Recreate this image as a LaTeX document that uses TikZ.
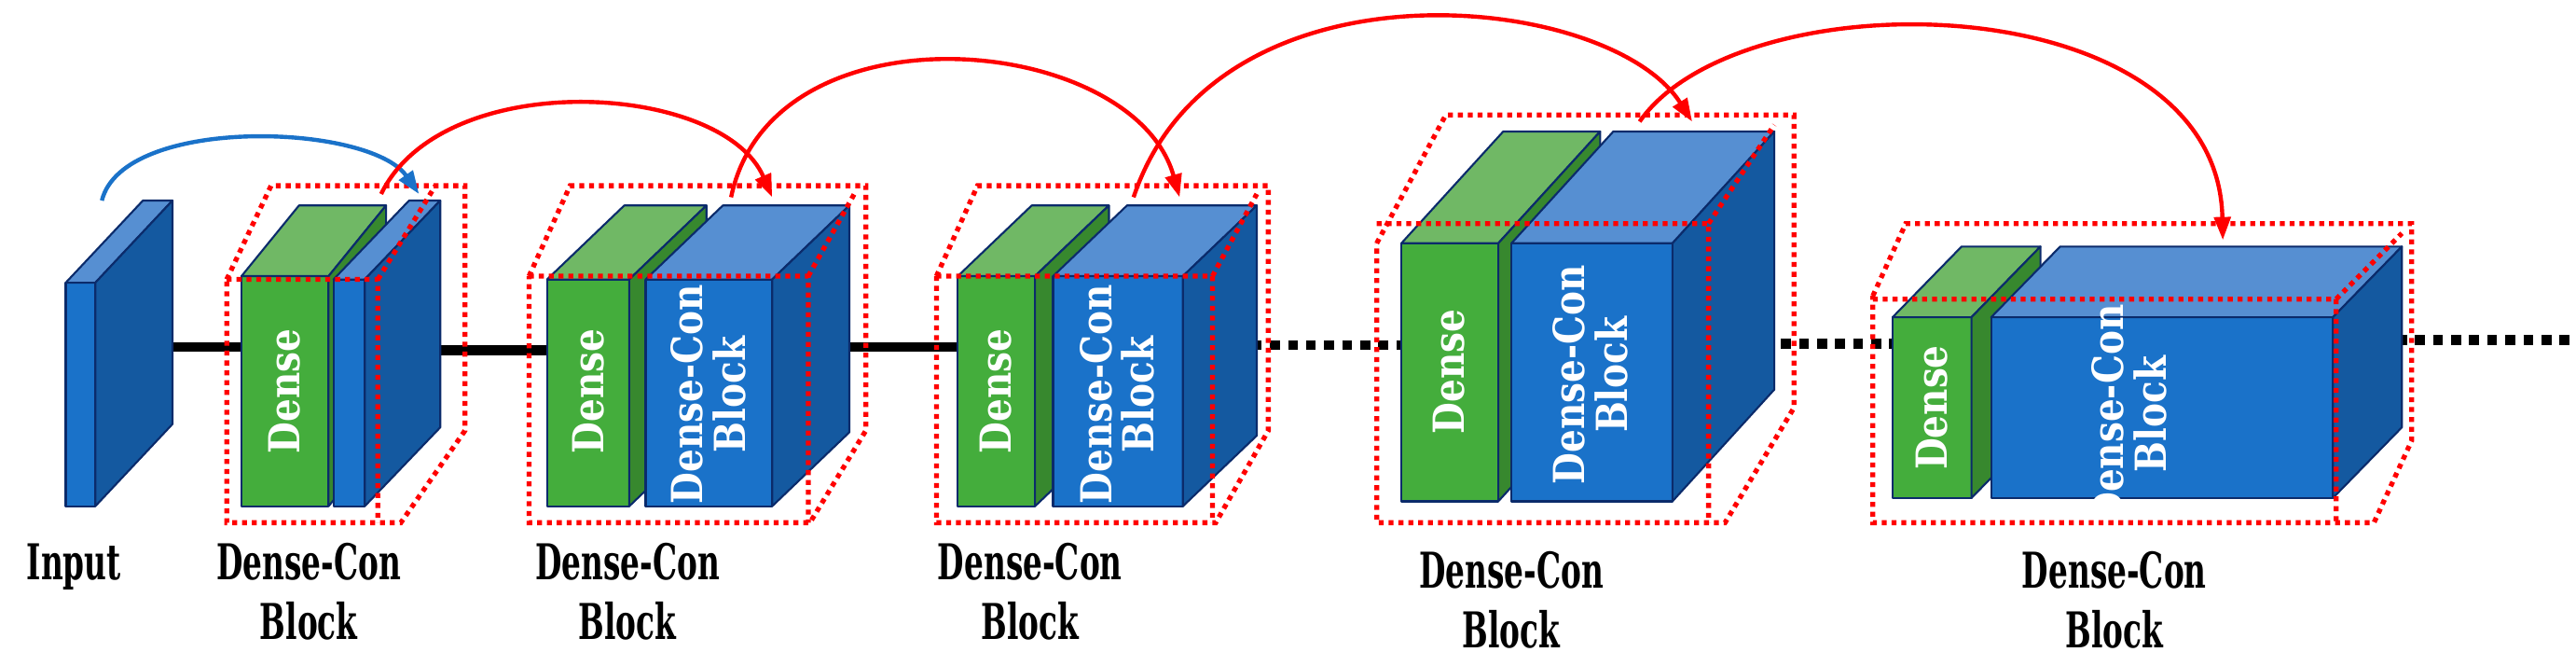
\documentclass[tikz,border=0pt]{standalone}
\usepackage{fontspec}
\setmainfont{DejaVu Serif}
\usetikzlibrary{arrows.meta}
\definecolor{bF}{HTML}{1A72C9}\definecolor{bT}{HTML}{568FD2}\definecolor{bS}{HTML}{1459A0}
\definecolor{gF}{HTML}{44AD3C}\definecolor{gT}{HTML}{70B865}\definecolor{gS}{HTML}{37882E}
\definecolor{edge}{HTML}{0B2B6B}
\tikzset{face/.style={draw=edge,line width=1.2pt,line join=round},
 outl/.style={draw=red,line width=3pt,dash pattern=on 3pt off 3pt},
 conn/.style={line width=6pt},
 dconn/.style={line width=6pt,dash pattern=on 6pt off 5pt},
 lab/.style={font=\bfseries\fontsize{30}{36}\selectfont,xscale=0.62,align=center},
 intxt/.style={text=white,rotate=90,font=\bfseries\fontsize{26}{26}\selectfont,align=center,xscale=0.85},
 skip/.style={-{Triangle[length=14pt,width=10pt]},line width=2.5pt}}
% x1 y1 x2 y2 dx dy front top side
\newcommand\cub[9]{%
 \fill[#7,face] (#1,#2) rectangle (#3,#4);
 \fill[#8,face] (#1,#2) -- ++(#5,-#6) -- ({#3+#5},{#2-#6}) -- (#3,#2) -- cycle;
 \fill[#9,face] (#3,#2) -- ({#3+#5},{#2-#6}) -- ({#3+#5},{#4-#6}) -- (#3,#4) -- cycle;}
\begin{document}
\begin{tikzpicture}[x=1pt,y=-1pt]
\useasboundingbox (0,0) rectangle (1568,405);
% connectors
\draw[conn] (95,211) -- (147,211);
\draw[conn] (245,213) -- (333,213);
\draw[conn] (493,211) -- (583,211);
\draw[dconn] (740,210) -- (853,210);
\draw[dconn] (1062,209) -- (1152,209);
\draw[dconn] (1448,207) -- (1568,207);
% input
\cub{40}{172}{58}{308}{47}{50}{bF}{bT}{bS}
\coordinate (in) at (62,122);
% block 1
\cub{147}{168}{200}{308}{35}{43}{gF}{gT}{gS}
\cub{203}{170}{222}{308}{46}{48}{bF}{bT}{bS}
\node[intxt] at (173,238) {Dense};
\draw[outl] (138,170) -- (165,113) -- (283,113) -- (283,262) -- (244,318) -- (138,318) -- cycle;
\draw[outl] (138,170) -- (230,170) -- (230,318) (230,170) -- (265,113);
\coordinate (b1i) at (255,118); \coordinate (b1o) at (232,118);
% block 2
\cub{333}{170}{383}{308}{47}{45}{gF}{gT}{gS}
\cub{393}{170}{470}{308}{47}{45}{bF}{bT}{bS}
\node[intxt] at (358,238) {Dense};
\node[intxt] at (431,240) {Dense-Con\\Block};
\draw[outl] (322,168) -- (347,113) -- (527,113) -- (527,262) -- (493,318) -- (322,318) -- cycle;
\draw[outl] (322,168) -- (492,168) -- (492,318) (492,168) -- (520,118);
\coordinate (b2i) at (470,120); \coordinate (b2o) at (445,120);
% block 3
\cub{583}{168}{630}{308}{45}{43}{gF}{gT}{gS}
\cub{641}{168}{720}{308}{45}{43}{bF}{bT}{bS}
\node[intxt] at (606,238) {Dense};
\node[intxt] at (680,240) {Dense-Con\\Block};
\draw[outl] (570,168) -- (595,113) -- (772,113) -- (772,262) -- (740,318) -- (570,318) -- cycle;
\draw[outl] (570,168) -- (738,168) -- (738,318) (738,168) -- (765,118);
\coordinate (b3i) at (718,120); \coordinate (b3o) at (690,120);
% block 4
\cub{853}{148}{912}{305}{62}{68}{gF}{gT}{gS}
\cub{920}{148}{1018}{305}{62}{68}{bF}{bT}{bS}
\node[intxt] at (882,226) {Dense};
\node[intxt] at (968,228) {Dense-Con\\Block};
\draw[outl] (838,148) -- (880,70) -- (1092,70) -- (1092,248) -- (1050,318) -- (838,318) -- cycle;
\draw[outl] (838,136) -- (1040,136) -- (1040,318) (1040,136) -- (1080,76);
\coordinate (b4i) at (1030,74); \coordinate (b4o) at (998,74);
% block 5
\cub{1152}{193}{1200}{303}{42}{43}{gF}{gT}{gS}
\cub{1212}{193}{1420}{303}{42}{43}{bF}{bT}{bS}
\node[intxt] at (1176,248) {Dense};
\node[intxt] at (1296,252) {Dense-Con\\Block};
\draw[outl] (1140,180) -- (1160,136) -- (1468,136) -- (1468,268) -- (1445,318) -- (1140,318) -- cycle;
\draw[outl] (1140,182) -- (1422,182) -- (1422,318) (1422,182) -- (1462,142);
\coordinate (b5i) at (1353,146);
% skip arrows
\draw[skip,color=bF] (in) .. controls (75,70) and (225,75) .. (b1i);
\draw[skip,red] (b1o) .. controls (270,40) and (440,50) .. (b2i);
\draw[skip,red] (b2o) .. controls (470,0) and (690,20) .. (b3i);
\draw[skip,red] (b3o) .. controls (740,-30) and (980,-5) .. (b4i);
\draw[skip,red] (b4o) .. controls (1060,-15) and (1350,-10) .. (b5i);
% labels
\node[lab] (lin) at (45,345) {Input};
\node[lab] (l1) at (188,360) {Dense-Con\\Block};
\node[lab] (l2) at (382,360) {Dense-Con\\Block};
\node[lab] (l3) at (627,360) {Dense-Con\\Block};
\node[lab] (l4) at (920,365) {Dense-Con\\Block};
\node[lab] (l5) at (1287,365) {Dense-Con\\Block};
\end{tikzpicture}
\end{document}
